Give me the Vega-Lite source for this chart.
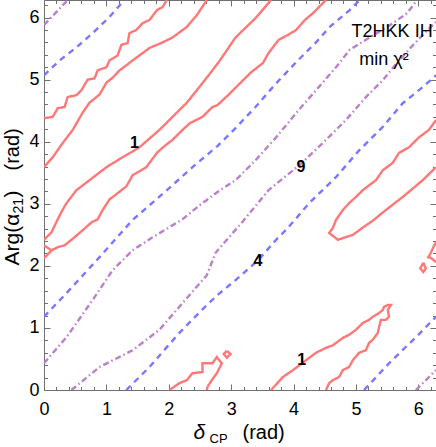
{
"$schema": "https://vega.github.io/schema/vega-lite/v6.json",
"width": 392, "height": 390,
"autosize": {"type": "none"},
"padding": {"left": 44, "top": 0, "right": 0, "bottom": 57},
"background": "white",
"config": {
  "view": {"stroke": "#707070", "strokeWidth": 1},
  "font": "Liberation Sans",
  "axis": {"grid": false, "domain": false, "tickColor": "#707070", "tickWidth": 1, "labelColor": "#000000", "titleColor": "#000000", "labelFont": "Liberation Sans", "titleFont": "Liberation Sans", "titleFontWeight": "normal", "labelFontSize": 18}
},
"datasets": {
"contours": [
{"c":"R1","k":"1","x":0,"y":4.38},{"c":"R1","k":"1","x":0.14,"y":4.40},{"c":"R1","k":"1","x":0.22,"y":4.54},{"c":"R1","k":"1","x":0.33,"y":4.56},{"c":"R1","k":"1","x":0.38,"y":4.72},{"c":"R1","k":"1","x":0.52,"y":4.75},{"c":"R1","k":"1","x":0.60,"y":4.83},{"c":"R1","k":"1","x":0.70,"y":5.00},{"c":"R1","k":"1","x":0.81,"y":5.02},{"c":"R1","k":"1","x":0.86,"y":5.15},{"c":"R1","k":"1","x":1.00,"y":5.20},{"c":"R1","k":"1","x":1.05,"y":5.31},{"c":"R1","k":"1","x":1.18,"y":5.39},{"c":"R1","k":"1","x":1.24,"y":5.56},{"c":"R1","k":"1","x":1.34,"y":5.59},{"c":"R1","k":"1","x":1.37,"y":5.75},{"c":"R1","k":"1","x":1.48,"y":5.80},{"c":"R1","k":"1","x":1.58,"y":5.91},{"c":"R1","k":"1","x":1.69,"y":5.96},{"c":"R1","k":"1","x":1.81,"y":6.12},{"c":"R1","k":"1","x":1.90,"y":6.17},{"c":"R1","k":"1","x":1.97,"y":6.2832},
{"c":"R2","k":"1","x":0,"y":3.59},{"c":"R2","k":"1","x":0.14,"y":3.75},{"c":"R2","k":"1","x":0.30,"y":3.98},{"c":"R2","k":"1","x":0.46,"y":4.19},{"c":"R2","k":"1","x":0.62,"y":4.47},{"c":"R2","k":"1","x":0.73,"y":4.63},{"c":"R2","k":"1","x":0.89,"y":4.76},{"c":"R2","k":"1","x":1.00,"y":4.95},{"c":"R2","k":"1","x":1.10,"y":5.03},{"c":"R2","k":"1","x":1.21,"y":5.15},{"c":"R2","k":"1","x":1.32,"y":5.23},{"c":"R2","k":"1","x":1.42,"y":5.31},{"c":"R2","k":"1","x":1.53,"y":5.39},{"c":"R2","k":"1","x":1.69,"y":5.51},{"c":"R2","k":"1","x":1.90,"y":5.60},{"c":"R2","k":"1","x":2.06,"y":5.68},{"c":"R2","k":"1","x":2.29,"y":5.85},{"c":"R2","k":"1","x":2.45,"y":6.04},{"c":"R2","k":"1","x":2.61,"y":6.2832},
{"c":"R3","k":"1","x":0,"y":2.42},{"c":"R3","k":"1","x":0.12,"y":2.54},{"c":"R3","k":"1","x":0.20,"y":2.71},{"c":"R3","k":"1","x":0.28,"y":2.87},{"c":"R3","k":"1","x":0.36,"y":3.01},{"c":"R3","k":"1","x":0.52,"y":3.22},{"c":"R3","k":"1","x":0.73,"y":3.38},{"c":"R3","k":"1","x":1.00,"y":3.59},{"c":"R3","k":"1","x":1.26,"y":3.75},{"c":"R3","k":"1","x":1.53,"y":3.91},{"c":"R3","k":"1","x":1.85,"y":4.19},{"c":"R3","k":"1","x":2.06,"y":4.40},{"c":"R3","k":"1","x":2.29,"y":4.63},{"c":"R3","k":"1","x":2.49,"y":4.88},{"c":"R3","k":"1","x":2.70,"y":5.15},{"c":"R3","k":"1","x":2.82,"y":5.31},{"c":"R3","k":"1","x":3.07,"y":5.68},{"c":"R3","k":"1","x":3.39,"y":5.99},{"c":"R3","k":"1","x":3.64,"y":6.2832},
{"c":"R4","k":"1","x":0,"y":2.33},{"c":"R4","k":"1","x":0.12,"y":2.25},{"c":"R4","k":"1","x":0.22,"y":2.30},{"c":"R4","k":"1","x":0.33,"y":2.33},{"c":"R4","k":"1","x":0.44,"y":2.42},{"c":"R4","k":"1","x":0.57,"y":2.53},{"c":"R4","k":"1","x":0.76,"y":2.70},{"c":"R4","k":"1","x":0.86,"y":2.75},{"c":"R4","k":"1","x":0.94,"y":2.90},{"c":"R4","k":"1","x":1.05,"y":3.07},{"c":"R4","k":"1","x":1.32,"y":3.28},{"c":"R4","k":"1","x":1.42,"y":3.46},{"c":"R4","k":"1","x":1.64,"y":3.59},{"c":"R4","k":"1","x":1.81,"y":3.82},{"c":"R4","k":"1","x":1.93,"y":3.93},{"c":"R4","k":"1","x":2.06,"y":4.03},{"c":"R4","k":"1","x":2.22,"y":4.19},{"c":"R4","k":"1","x":2.34,"y":4.30},{"c":"R4","k":"1","x":2.54,"y":4.40},{"c":"R4","k":"1","x":2.70,"y":4.56},{"c":"R4","k":"1","x":2.78,"y":4.59},{"c":"R4","k":"1","x":2.95,"y":4.75},{"c":"R4","k":"1","x":3.07,"y":4.87},{"c":"R4","k":"1","x":3.31,"y":5.11},{"c":"R4","k":"1","x":3.51,"y":5.27},{"c":"R4","k":"1","x":3.60,"y":5.43},{"c":"R4","k":"1","x":3.76,"y":5.64},{"c":"R4","k":"1","x":3.91,"y":5.72},{"c":"R4","k":"1","x":4.04,"y":5.80},{"c":"R4","k":"1","x":4.18,"y":5.96},{"c":"R4","k":"1","x":4.31,"y":6.07},{"c":"R4","k":"1","x":4.52,"y":6.2832},
{"c":"R4b","k":"1","x":0.12,"y":2.25},{"c":"R4b","k":"1","x":0.04,"y":2.16},{"c":"R4b","k":"1","x":0,"y":2.13},
{"c":"R5","k":"1","x":6.2832,"y":4.35},{"c":"R5","k":"1","x":6.17,"y":4.19},{"c":"R5","k":"1","x":6.01,"y":4.07},{"c":"R5","k":"1","x":5.85,"y":3.91},{"c":"R5","k":"1","x":5.69,"y":3.82},{"c":"R5","k":"1","x":5.59,"y":3.66},{"c":"R5","k":"1","x":5.43,"y":3.54},{"c":"R5","k":"1","x":5.32,"y":3.38},{"c":"R5","k":"1","x":5.11,"y":3.22},{"c":"R5","k":"1","x":5.00,"y":3.11},{"c":"R5","k":"1","x":4.89,"y":3.01},{"c":"R5","k":"1","x":4.79,"y":2.90},{"c":"R5","k":"1","x":4.68,"y":2.74},{"c":"R5","k":"1","x":4.63,"y":2.61},{"c":"R5","k":"1","x":4.57,"y":2.53},{"c":"R5","k":"1","x":4.71,"y":2.42},{"c":"R5","k":"1","x":4.95,"y":2.50},{"c":"R5","k":"1","x":5.10,"y":2.61},{"c":"R5","k":"1","x":5.26,"y":2.72},{"c":"R5","k":"1","x":5.48,"y":2.90},{"c":"R5","k":"1","x":5.75,"y":3.11},{"c":"R5","k":"1","x":6.07,"y":3.38},{"c":"R5","k":"1","x":6.2832,"y":3.59},
{"c":"R6","k":"1","x":6.2832,"y":2.38},{"c":"R6","k":"1","x":6.24,"y":2.30},{"c":"R6","k":"1","x":6.20,"y":2.21},{"c":"R6","k":"1","x":6.16,"y":2.14},{"c":"R6","k":"1","x":6.20,"y":2.13},{"c":"R6","k":"1","x":6.2832,"y":2.06},
{"c":"R7","k":"1","x":6.08,"y":2.05},{"c":"R7","k":"1","x":6.12,"y":1.96},{"c":"R7","k":"1","x":6.08,"y":1.90},{"c":"R7","k":"1","x":6.03,"y":1.96},{"c":"R7","k":"1","x":6.08,"y":2.05},
{"c":"R8","k":"1","x":3.64,"y":0},{"c":"R8","k":"1","x":3.83,"y":0.21},{"c":"R8","k":"1","x":3.99,"y":0.32},{"c":"R8","k":"1","x":4.20,"y":0.48},{"c":"R8","k":"1","x":4.36,"y":0.60},{"c":"R8","k":"1","x":4.52,"y":0.68},{"c":"R8","k":"1","x":4.63,"y":0.72},{"c":"R8","k":"1","x":4.79,"y":0.84},{"c":"R8","k":"1","x":4.89,"y":0.89},{"c":"R8","k":"1","x":5.00,"y":0.97},{"c":"R8","k":"1","x":5.11,"y":1.08},{"c":"R8","k":"1","x":5.21,"y":1.13},{"c":"R8","k":"1","x":5.27,"y":1.18},{"c":"R8","k":"1","x":5.37,"y":1.24},{"c":"R8","k":"1","x":5.43,"y":1.29},{"c":"R8","k":"1","x":5.45,"y":1.34},{"c":"R8","k":"1","x":5.51,"y":1.37},{"c":"R8","k":"1","x":5.56,"y":1.37},{"c":"R8","k":"1","x":5.51,"y":1.29},{"c":"R8","k":"1","x":5.53,"y":1.18},{"c":"R8","k":"1","x":5.48,"y":1.13},{"c":"R8","k":"1","x":5.40,"y":1.13},{"c":"R8","k":"1","x":5.37,"y":1.01},{"c":"R8","k":"1","x":5.35,"y":0.92},{"c":"R8","k":"1","x":5.27,"y":0.81},{"c":"R8","k":"1","x":5.21,"y":0.76},{"c":"R8","k":"1","x":5.16,"y":0.64},{"c":"R8","k":"1","x":5.05,"y":0.60},{"c":"R8","k":"1","x":4.95,"y":0.48},{"c":"R8","k":"1","x":4.89,"y":0.37},{"c":"R8","k":"1","x":4.79,"y":0.32},{"c":"R8","k":"1","x":4.73,"y":0.21},{"c":"R8","k":"1","x":4.63,"y":0.16},{"c":"R8","k":"1","x":4.57,"y":0.11},{"c":"R8","k":"1","x":4.52,"y":0},
{"c":"R9","k":"1","x":2.01,"y":0},{"c":"R9","k":"1","x":2.17,"y":0.11},{"c":"R9","k":"1","x":2.29,"y":0.16},{"c":"R9","k":"1","x":2.38,"y":0.27},{"c":"R9","k":"1","x":2.54,"y":0.29},{"c":"R9","k":"1","x":2.54,"y":0.43},{"c":"R9","k":"1","x":2.70,"y":0.43},{"c":"R9","k":"1","x":2.77,"y":0.53},{"c":"R9","k":"1","x":2.85,"y":0.43},{"c":"R9","k":"1","x":2.77,"y":0.27},{"c":"R9","k":"1","x":2.69,"y":0.16},{"c":"R9","k":"1","x":2.62,"y":0.05},{"c":"R9","k":"1","x":2.61,"y":0},
{"c":"R10","k":"1","x":2.93,"y":0.63},{"c":"R10","k":"1","x":2.99,"y":0.58},{"c":"R10","k":"1","x":2.93,"y":0.52},{"c":"R10","k":"1","x":2.88,"y":0.58},{"c":"R10","k":"1","x":2.93,"y":0.63},
{"c":"B1","k":"4","x":0,"y":5.07},{"c":"B1","k":"4","x":0.25,"y":5.31},{"c":"B1","k":"4","x":0.52,"y":5.52},{"c":"B1","k":"4","x":0.78,"y":5.75},{"c":"B1","k":"4","x":1.05,"y":6.01},{"c":"B1","k":"4","x":1.29,"y":6.2832},
{"c":"B2","k":"4","x":0,"y":1.18},{"c":"B2","k":"4","x":0.36,"y":1.56},{"c":"B2","k":"4","x":0.89,"y":2.14},{"c":"B2","k":"4","x":1.42,"y":2.74},{"c":"B2","k":"4","x":1.97,"y":3.22},{"c":"B2","k":"4","x":2.38,"y":3.59},{"c":"B2","k":"4","x":2.78,"y":3.93},{"c":"B2","k":"4","x":3.07,"y":4.22},{"c":"B2","k":"4","x":3.39,"y":4.56},{"c":"B2","k":"4","x":3.72,"y":4.94},{"c":"B2","k":"4","x":4.04,"y":5.28},{"c":"B2","k":"4","x":4.36,"y":5.60},{"c":"B2","k":"4","x":4.59,"y":5.86},{"c":"B2","k":"4","x":4.90,"y":6.12},{"c":"B2","k":"4","x":5.06,"y":6.2832},
{"c":"B3","k":"4","x":1.32,"y":0},{"c":"B3","k":"4","x":1.69,"y":0.37},{"c":"B3","k":"4","x":2.17,"y":0.92},{"c":"B3","k":"4","x":2.54,"y":1.30},{"c":"B3","k":"4","x":2.78,"y":1.53},{"c":"B3","k":"4","x":3.07,"y":1.77},{"c":"B3","k":"4","x":3.43,"y":2.09},{"c":"B3","k":"4","x":3.72,"y":2.42},{"c":"B3","k":"4","x":3.88,"y":2.58},{"c":"B3","k":"4","x":4.02,"y":2.74},{"c":"B3","k":"4","x":4.25,"y":3.01},{"c":"B3","k":"4","x":4.68,"y":3.43},{"c":"B3","k":"4","x":5.05,"y":3.86},{"c":"B3","k":"4","x":5.43,"y":4.24},{"c":"B3","k":"4","x":5.75,"y":4.62},{"c":"B3","k":"4","x":6.07,"y":4.88},{"c":"B3","k":"4","x":6.2832,"y":5.07},
{"c":"B4","k":"4","x":5.13,"y":0},{"c":"B4","k":"4","x":5.53,"y":0.43},{"c":"B4","k":"4","x":5.96,"y":0.85},{"c":"B4","k":"4","x":6.2832,"y":1.18},
{"c":"P1","k":"9","x":0,"y":5.88},{"c":"P1","k":"9","x":0.19,"y":6.08},{"c":"P1","k":"9","x":0.38,"y":6.2832},
{"c":"P2","k":"9","x":0,"y":0.43},{"c":"P2","k":"9","x":0.36,"y":0.85},{"c":"P2","k":"9","x":0.78,"y":1.45},{"c":"P2","k":"9","x":1.10,"y":1.93},{"c":"P2","k":"9","x":1.42,"y":2.25},{"c":"P2","k":"9","x":1.74,"y":2.46},{"c":"P2","k":"9","x":2.22,"y":2.75},{"c":"P2","k":"9","x":2.50,"y":2.98},{"c":"P2","k":"9","x":2.78,"y":3.19},{"c":"P2","k":"9","x":3.07,"y":3.38},{"c":"P2","k":"9","x":3.39,"y":3.70},{"c":"P2","k":"9","x":3.72,"y":4.07},{"c":"P2","k":"9","x":4.04,"y":4.46},{"c":"P2","k":"9","x":4.36,"y":4.83},{"c":"P2","k":"9","x":4.68,"y":5.20},{"c":"P2","k":"9","x":4.90,"y":5.48},{"c":"P2","k":"9","x":5.22,"y":5.68},{"c":"P2","k":"9","x":5.55,"y":5.88},{"c":"P2","k":"9","x":5.82,"y":6.07},{"c":"P2","k":"9","x":5.98,"y":6.2832},
{"c":"P3","k":"9","x":0.44,"y":0},{"c":"P3","k":"9","x":0.89,"y":0.37},{"c":"P3","k":"9","x":1.42,"y":0.64},{"c":"P3","k":"9","x":1.85,"y":0.97},{"c":"P3","k":"9","x":2.22,"y":1.40},{"c":"P3","k":"9","x":2.61,"y":1.85},{"c":"P3","k":"9","x":2.75,"y":2.21},{"c":"P3","k":"9","x":3.19,"y":2.72},{"c":"P3","k":"9","x":3.60,"y":3.22},{"c":"P3","k":"9","x":4.09,"y":3.62},{"c":"P3","k":"9","x":4.47,"y":3.98},{"c":"P3","k":"9","x":4.84,"y":4.35},{"c":"P3","k":"9","x":5.16,"y":4.72},{"c":"P3","k":"9","x":5.43,"y":4.99},{"c":"P3","k":"9","x":5.64,"y":5.25},{"c":"P3","k":"9","x":5.90,"y":5.54},{"c":"P3","k":"9","x":6.11,"y":5.76},{"c":"P3","k":"9","x":6.2832,"y":5.93},
{"c":"P4","k":"9","x":5.96,"y":0},{"c":"P4","k":"9","x":6.2832,"y":0.32}
]
},
"layer": [
{
  "data": {"name": "contours"},
  "mark": {"type": "line", "strokeWidth": 2.4, "clip": true, "strokeCap": "butt"},
  "encoding": {
    "x": {"field": "x", "type": "quantitative", "scale": {"domain": [0, 6.2832], "nice": false, "zero": false},
      "axis": {"orient": "bottom", "values": [0,0.2,0.4,0.6,0.8,1,1.2,1.4,1.6,1.8,2,2.2,2.4,2.6,2.8,3,3.2,3.4,3.6,3.8,4,4.2,4.4,4.6,4.8,5,5.2,5.4,5.6,5.8,6,6.2],
        "labelExpr": "datum.value % 1 === 0 ? datum.value : ''",
        "tickSize": {"condition": {"test": "datum.value % 1 === 0", "value": -6}, "value": -3.5},
        "labelPadding": 16, "labelBaseline": "top", "labelFlush": false,
        "title": "(rad)", "titleFontSize": 20, "titleX": 198, "titleY": 48, "titleAlign": "left", "titleBaseline": "alphabetic"}},
    "y": {"field": "y", "type": "quantitative", "scale": {"domain": [0, 6.2832], "nice": false, "zero": false},
      "axis": {"orient": "left", "values": [0,0.2,0.4,0.6,0.8,1,1.2,1.4,1.6,1.8,2,2.2,2.4,2.6,2.8,3,3.2,3.4,3.6,3.8,4,4.2,4.4,4.6,4.8,5,5.2,5.4,5.6,5.8,6,6.2],
        "labelExpr": "datum.value % 1 === 0 ? datum.value : ''",
        "tickSize": {"condition": {"test": "datum.value % 1 === 0", "value": -6}, "value": -3.5},
        "labelPadding": 11, "labelFlush": false,
        "title": "Arg(α", "titleFontSize": 21, "titleX": -26, "titleY": 265, "titleAngle": 270, "titleAlign": "left", "titleBaseline": "alphabetic"}},
    "detail": {"field": "c"},
    "order": {"value": null},
    "color": {"field": "k", "type": "nominal", "scale": {"domain": ["1","4","9"], "range": ["#ff7777","#7777ff","#bb80cc"]}, "legend": null},
    "strokeDash": {"field": "k", "type": "nominal", "scale": {"domain": ["1","4","9"], "range": [[1,0],[6,5],[6,3,1.5,3]]}, "legend": null}
  }
},
{
  "data": {"values": [{"t":"1","x":1.45,"y":3.98},{"t":"1","x":4.13,"y":0.48},{"t":"4","x":3.43,"y":2.08},{"t":"9","x":4.12,"y":3.59}]},
  "mark": {"type": "text", "fontSize": 16, "fontWeight": "bold", "color": "#000000"},
  "encoding": {
    "x": {"field": "x", "type": "quantitative", "axis": {"orient": "top", "values": [0,0.2,0.4,0.6,0.8,1,1.2,1.4,1.6,1.8,2,2.2,2.4,2.6,2.8,3,3.2,3.4,3.6,3.8,4,4.2,4.4,4.6,4.8,5,5.2,5.4,5.6,5.8,6,6.2], "labels": false, "title": null,
      "tickSize": {"condition": {"test": "datum.value % 1 === 0", "value": -6}, "value": -3.5}}},
    "y": {"field": "y", "type": "quantitative", "axis": {"orient": "right", "values": [0,0.2,0.4,0.6,0.8,1,1.2,1.4,1.6,1.8,2,2.2,2.4,2.6,2.8,3,3.2,3.4,3.6,3.8,4,4.2,4.4,4.6,4.8,5,5.2,5.4,5.6,5.8,6,6.2], "labels": false,
      "tickSize": {"condition": {"test": "datum.value % 1 === 0", "value": -6}, "value": -3.5},
      "title": "(rad)", "titleFontSize": 20, "titleX": -418, "titleY": 170, "titleAngle": 270, "titleAlign": "left", "titleBaseline": "alphabetic"}},
    "text": {"field": "t"}
  }
},
{
  "data": {"values": [{"t":"T2HKK IH","x":5.58,"y":5.68}]},
  "mark": {"type": "text", "fontSize": 18, "baseline": "alphabetic", "align": "center", "color": "#000000"},
  "encoding": {
    "x": {"field": "x", "type": "quantitative", "axis": {"orient": "bottom", "labels": false, "ticks": false, "title": "δ", "titleFontSize": 21, "titleFontStyle": "italic", "titleX": 149, "titleY": 48, "titleAlign": "left", "titleBaseline": "alphabetic"}},
    "y": {"field": "y", "type": "quantitative", "axis": {"orient": "left", "labels": false, "ticks": false, "title": "21", "titleFontSize": 14, "titleX": -22, "titleY": 213, "titleAngle": 270, "titleAlign": "left", "titleBaseline": "alphabetic"}},
    "text": {"field": "t"}
  }
},
{
  "data": {"values": [{"t":"min χ²","x":5.45,"y":5.23}]},
  "mark": {"type": "text", "fontSize": 18, "baseline": "alphabetic", "align": "center", "color": "#000000"},
  "encoding": {
    "x": {"field": "x", "type": "quantitative", "axis": {"orient": "bottom", "labels": false, "ticks": false, "title": "CP", "titleFontSize": 13, "titleX": 165, "titleY": 52, "titleAlign": "left", "titleBaseline": "alphabetic"}},
    "y": {"field": "y", "type": "quantitative", "axis": {"orient": "left", "labels": false, "ticks": false, "title": ")", "titleFontSize": 21, "titleX": -26, "titleY": 197, "titleAngle": 270, "titleAlign": "left", "titleBaseline": "alphabetic"}},
    "text": {"field": "t"}
  }
}
],
"resolve": {"axis": {"x": "independent", "y": "independent"}}
}
